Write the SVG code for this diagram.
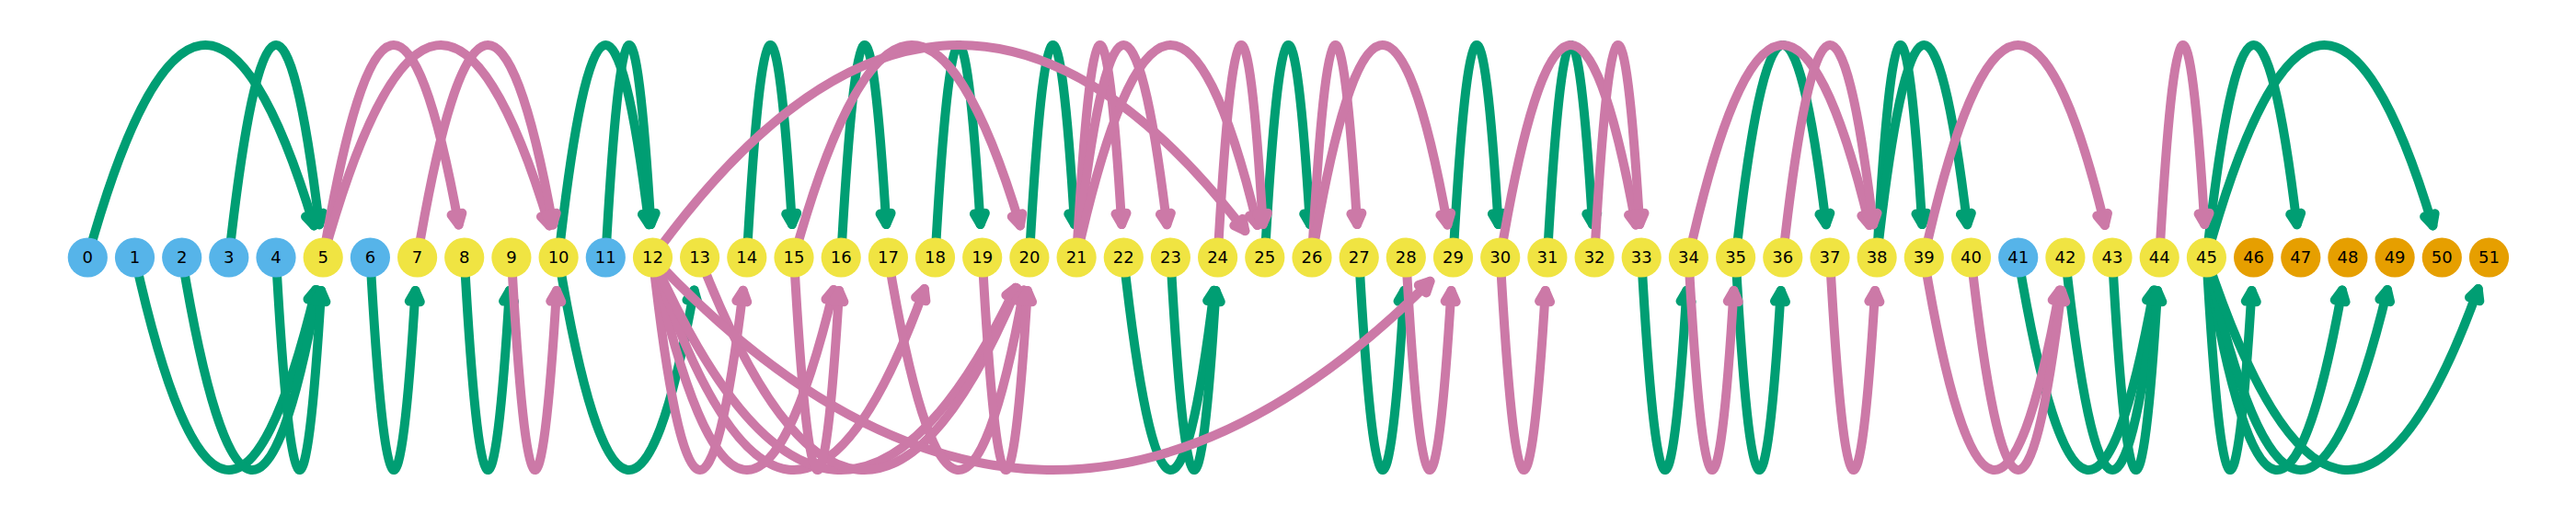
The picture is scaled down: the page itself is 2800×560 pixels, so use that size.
<svg xmlns="http://www.w3.org/2000/svg" width="2800" height="560" viewBox="0 0 2800 560">
<style>
.e{fill:none;stroke-width:10;stroke-linecap:round;stroke-linejoin:round}
.g{stroke:#009E73;marker-end:url(#mg)}
.p{stroke:#CC79A7;marker-end:url(#mp)}
.n circle{stroke:none}
.b{fill:#56B4E9}
.y{fill:#F0E442}
.o{fill:#E69F00}
text{font-family:"DejaVu Sans","Liberation Sans",sans-serif;font-size:18px;fill:#000;text-anchor:middle}
</style>
<defs>
<marker id="mg" markerUnits="userSpaceOnUse" viewBox="-20 -12 26 24" refX="0" refY="0" markerWidth="26" markerHeight="24" orient="auto">
<path d="M0,0 L-12,-6 L-12,6 Z" fill="#009E73" stroke="#009E73" stroke-width="10" stroke-linejoin="round"/>
</marker>
<marker id="mp" markerUnits="userSpaceOnUse" viewBox="-20 -12 26 24" refX="0" refY="0" markerWidth="26" markerHeight="24" orient="auto">
<path d="M0,0 L-12,-6 L-12,6 Z" fill="#CC79A7" stroke="#CC79A7" stroke-width="10" stroke-linejoin="round"/>
</marker>
</defs>
<rect width="2800" height="560" fill="#fff"/>
<g id="edges">
<!-- green top -->
<path class="e g" d="M95.3,280 q122.97,-444 245.93,-34.59"/>
<path class="e g" d="M248.8,280 q49.12,-443.37 98.23,-35.76"/>
<path class="e g" d="M607.1,280 q49.12,-443.37 98.23,-35.76"/>
<path class="e g" d="M658.3,280 q24.55,-443.27 49.1,-35.94"/>
<path class="e g" d="M811.8,280 q24.55,-443.27 49.1,-35.94"/>
<path class="e g" d="M914.2,280 q24.55,-443.27 49.1,-35.94"/>
<path class="e g" d="M1016.5,280 q24.55,-443.27 49.1,-35.94"/>
<path class="e g" d="M1118.9,280 q24.55,-443.27 49.1,-35.94"/>
<path class="e g" d="M1374.8,280 q24.55,-443.27 49.1,-35.94"/>
<path class="e g" d="M1579.5,280 q24.55,-443.27 49.1,-35.94"/>
<path class="e g" d="M1681.9,280 q24.55,-443.27 49.1,-35.94"/>
<path class="e g" d="M1886.6,280 q49.12,-443.37 98.23,-35.76"/>
<path class="e g" d="M2040.1,280 q24.55,-443.27 49.1,-35.94"/>
<path class="e g" d="M2040.1,280 q49.12,-443.37 98.23,-35.76"/>
<path class="e g" d="M2398.4,280 q49.12,-443.37 98.23,-35.76"/>
<path class="e g" d="M2398.4,280 q122.97,-444 245.93,-34.59"/>
<!-- green bottom -->
<path class="e g" d="M146.5,280 q98.31,443.74 196.63,35.08"/>
<path class="e g" d="M197.7,280 q73.7,443.52 147.4,35.47"/>
<path class="e g" d="M300,280 q24.55,443.27 49.1,35.94"/>
<path class="e g" d="M402.4,280 q24.55,443.27 49.1,35.94"/>
<path class="e g" d="M504.7,280 q24.55,443.27 49.1,35.94"/>
<path class="e g" d="M607.1,280 q73.7,443.52 147.4,35.47"/>
<path class="e g" d="M1221.3,280 q49.12,443.37 98.23,35.76"/>
<path class="e g" d="M1272.4,280 q24.55,443.27 49.1,35.94"/>
<path class="e g" d="M1477.2,280 q24.55,443.27 49.1,35.94"/>
<path class="e g" d="M1784.2,280 q24.55,443.27 49.1,35.94"/>
<path class="e g" d="M1886.6,280 q24.55,443.27 49.1,35.94"/>
<path class="e g" d="M2193.7,280 q73.7,443.52 147.4,35.47"/>
<path class="e g" d="M2244.9,280 q49.12,443.37 98.23,35.76"/>
<path class="e g" d="M2296,280 q24.55,443.27 49.1,35.94"/>
<path class="e g" d="M2398.4,280 q24.55,443.27 49.1,35.94"/>
<path class="e g" d="M2398.4,280 q73.7,443.52 147.4,35.47"/>
<path class="e g" d="M2398.4,280 q98.31,443.74 196.63,35.08"/>
<path class="e g" d="M2398.4,280 q147.66,444.31 295.32,34.03"/>
<!-- pink top -->
<path class="e p" d="M351.2,280 q73.7,-443.52 147.4,-35.47"/>
<path class="e p" d="M351.2,280 q122.97,-444 245.93,-34.59"/>
<path class="e p" d="M453.6,280 q73.7,-443.52 147.4,-35.47"/>
<path class="e p" d="M709.5,280 q321.92,-447.08 643.85,-28.88"/>
<path class="e p" d="M863,280 q122.97,-444 245.93,-34.59"/>
<path class="e p" d="M1170.1,280 q24.55,-443.27 49.1,-35.94"/>
<path class="e p" d="M1170.1,280 q49.12,-443.37 98.23,-35.76"/>
<path class="e p" d="M1170.1,280 q98.31,-443.74 196.63,-35.08"/>
<path class="e p" d="M1323.6,280 q24.55,-443.27 49.1,-35.94"/>
<path class="e p" d="M1426,280 q24.55,-443.27 49.1,-35.94"/>
<path class="e p" d="M1426,280 q73.7,-443.52 147.4,-35.47"/>
<path class="e p" d="M1630.7,280 q73.7,-443.52 147.4,-35.47"/>
<path class="e p" d="M1733.1,280 q24.55,-443.27 49.1,-35.94"/>
<path class="e p" d="M1835.4,280 q98.31,-443.74 196.63,-35.08"/>
<path class="e p" d="M1937.8,280 q49.12,-443.37 98.23,-35.76"/>
<path class="e p" d="M2091.3,280 q98.31,-443.74 196.63,-35.08"/>
<path class="e p" d="M2347.2,280 q24.55,-443.27 49.1,-35.94"/>
<!-- pink bottom -->
<path class="e p" d="M555.9,280 q24.55,443.27 49.1,35.94"/>
<path class="e p" d="M709.5,280 q49.12,443.37 98.23,35.76"/>
<path class="e p" d="M709.5,280 q98.31,443.74 196.63,35.08"/>
<path class="e p" d="M709.5,280 q147.66,444.31 295.32,34.03"/>
<path class="e p" d="M709.5,280 q197.2,445.02 394.4,32.71"/>
<path class="e p" d="M760.6,280 q172.4,444.65 344.81,33.39"/>
<path class="e p" d="M709.5,280 q422.5,448.69 845,25.85"/>
<path class="e p" d="M863,280 q24.55,443.27 49.1,35.94"/>
<path class="e p" d="M965.4,280 q73.7,443.52 147.4,35.47"/>
<path class="e p" d="M1067.7,280 q24.55,443.27 49.1,35.94"/>
<path class="e p" d="M1528.3,280 q24.55,443.27 49.1,35.94"/>
<path class="e p" d="M1630.7,280 q24.55,443.27 49.1,35.94"/>
<path class="e p" d="M1835.4,280 q24.55,443.27 49.1,35.94"/>
<path class="e p" d="M1989,280 q24.55,443.27 49.1,35.94"/>
<path class="e p" d="M2091.3,280 q73.7,443.52 147.4,35.47"/>
<path class="e p" d="M2142.5,280 q49.12,443.37 98.23,35.76"/>
</g>
<g id="nodes" class="n">
<g id="n0"><circle class="b" cx="95.3" cy="280" r="21.6"/><text x="95.3" y="285.8">0</text></g>
<g id="n1"><circle class="b" cx="146.5" cy="280" r="21.6"/><text x="146.5" y="285.8">1</text></g>
<g id="n2"><circle class="b" cx="197.7" cy="280" r="21.6"/><text x="197.7" y="285.8">2</text></g>
<g id="n3"><circle class="b" cx="248.8" cy="280" r="21.6"/><text x="248.8" y="285.8">3</text></g>
<g id="n4"><circle class="b" cx="300" cy="280" r="21.6"/><text x="300" y="285.8">4</text></g>
<g id="n5"><circle class="y" cx="351.2" cy="280" r="21.6"/><text x="351.2" y="285.8">5</text></g>
<g id="n6"><circle class="b" cx="402.4" cy="280" r="21.6"/><text x="402.4" y="285.8">6</text></g>
<g id="n7"><circle class="y" cx="453.6" cy="280" r="21.6"/><text x="453.6" y="285.8">7</text></g>
<g id="n8"><circle class="y" cx="504.7" cy="280" r="21.6"/><text x="504.7" y="285.8">8</text></g>
<g id="n9"><circle class="y" cx="555.9" cy="280" r="21.6"/><text x="555.9" y="285.8">9</text></g>
<g id="n10"><circle class="y" cx="607.1" cy="280" r="21.6"/><text x="607.1" y="285.8">10</text></g>
<g id="n11"><circle class="b" cx="658.3" cy="280" r="21.6"/><text x="658.3" y="285.8">11</text></g>
<g id="n12"><circle class="y" cx="709.5" cy="280" r="21.6"/><text x="709.5" y="285.8">12</text></g>
<g id="n13"><circle class="y" cx="760.6" cy="280" r="21.6"/><text x="760.6" y="285.8">13</text></g>
<g id="n14"><circle class="y" cx="811.8" cy="280" r="21.6"/><text x="811.8" y="285.8">14</text></g>
<g id="n15"><circle class="y" cx="863" cy="280" r="21.6"/><text x="863" y="285.8">15</text></g>
<g id="n16"><circle class="y" cx="914.2" cy="280" r="21.6"/><text x="914.2" y="285.8">16</text></g>
<g id="n17"><circle class="y" cx="965.4" cy="280" r="21.6"/><text x="965.4" y="285.8">17</text></g>
<g id="n18"><circle class="y" cx="1016.5" cy="280" r="21.6"/><text x="1016.5" y="285.8">18</text></g>
<g id="n19"><circle class="y" cx="1067.7" cy="280" r="21.6"/><text x="1067.7" y="285.8">19</text></g>
<g id="n20"><circle class="y" cx="1118.9" cy="280" r="21.6"/><text x="1118.9" y="285.8">20</text></g>
<g id="n21"><circle class="y" cx="1170.1" cy="280" r="21.6"/><text x="1170.1" y="285.8">21</text></g>
<g id="n22"><circle class="y" cx="1221.3" cy="280" r="21.6"/><text x="1221.3" y="285.8">22</text></g>
<g id="n23"><circle class="y" cx="1272.4" cy="280" r="21.6"/><text x="1272.4" y="285.8">23</text></g>
<g id="n24"><circle class="y" cx="1323.6" cy="280" r="21.6"/><text x="1323.6" y="285.8">24</text></g>
<g id="n25"><circle class="y" cx="1374.8" cy="280" r="21.6"/><text x="1374.8" y="285.8">25</text></g>
<g id="n26"><circle class="y" cx="1426" cy="280" r="21.6"/><text x="1426" y="285.8">26</text></g>
<g id="n27"><circle class="y" cx="1477.2" cy="280" r="21.6"/><text x="1477.2" y="285.8">27</text></g>
<g id="n28"><circle class="y" cx="1528.3" cy="280" r="21.6"/><text x="1528.3" y="285.8">28</text></g>
<g id="n29"><circle class="y" cx="1579.5" cy="280" r="21.6"/><text x="1579.5" y="285.8">29</text></g>
<g id="n30"><circle class="y" cx="1630.7" cy="280" r="21.6"/><text x="1630.7" y="285.8">30</text></g>
<g id="n31"><circle class="y" cx="1681.9" cy="280" r="21.6"/><text x="1681.9" y="285.8">31</text></g>
<g id="n32"><circle class="y" cx="1733.1" cy="280" r="21.6"/><text x="1733.1" y="285.8">32</text></g>
<g id="n33"><circle class="y" cx="1784.2" cy="280" r="21.6"/><text x="1784.2" y="285.8">33</text></g>
<g id="n34"><circle class="y" cx="1835.4" cy="280" r="21.6"/><text x="1835.4" y="285.8">34</text></g>
<g id="n35"><circle class="y" cx="1886.6" cy="280" r="21.6"/><text x="1886.6" y="285.8">35</text></g>
<g id="n36"><circle class="y" cx="1937.8" cy="280" r="21.6"/><text x="1937.8" y="285.8">36</text></g>
<g id="n37"><circle class="y" cx="1989" cy="280" r="21.6"/><text x="1989" y="285.8">37</text></g>
<g id="n38"><circle class="y" cx="2040.1" cy="280" r="21.6"/><text x="2040.1" y="285.8">38</text></g>
<g id="n39"><circle class="y" cx="2091.3" cy="280" r="21.6"/><text x="2091.3" y="285.8">39</text></g>
<g id="n40"><circle class="y" cx="2142.5" cy="280" r="21.6"/><text x="2142.5" y="285.8">40</text></g>
<g id="n41"><circle class="b" cx="2193.7" cy="280" r="21.6"/><text x="2193.7" y="285.8">41</text></g>
<g id="n42"><circle class="y" cx="2244.9" cy="280" r="21.6"/><text x="2244.9" y="285.8">42</text></g>
<g id="n43"><circle class="y" cx="2296" cy="280" r="21.6"/><text x="2296" y="285.8">43</text></g>
<g id="n44"><circle class="y" cx="2347.2" cy="280" r="21.6"/><text x="2347.2" y="285.8">44</text></g>
<g id="n45"><circle class="y" cx="2398.4" cy="280" r="21.6"/><text x="2398.4" y="285.8">45</text></g>
<g id="n46"><circle class="o" cx="2449.6" cy="280" r="21.6"/><text x="2449.6" y="285.8">46</text></g>
<g id="n47"><circle class="o" cx="2500.8" cy="280" r="21.6"/><text x="2500.8" y="285.8">47</text></g>
<g id="n48"><circle class="o" cx="2551.9" cy="280" r="21.6"/><text x="2551.9" y="285.8">48</text></g>
<g id="n49"><circle class="o" cx="2603.1" cy="280" r="21.6"/><text x="2603.1" y="285.8">49</text></g>
<g id="n50"><circle class="o" cx="2654.3" cy="280" r="21.6"/><text x="2654.3" y="285.8">50</text></g>
<g id="n51"><circle class="o" cx="2705.5" cy="280" r="21.6"/><text x="2705.5" y="285.8">51</text></g>
</g>
</svg>
